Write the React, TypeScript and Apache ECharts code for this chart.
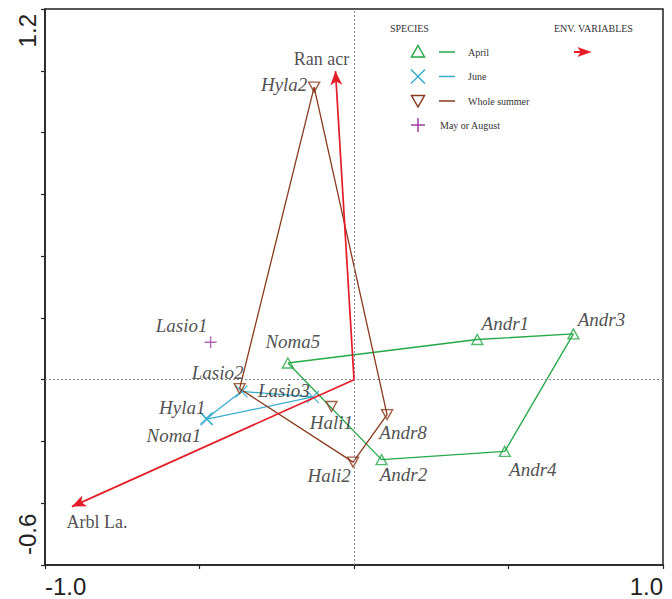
import React, { useEffect, useRef } from 'react';
import * as echarts from 'echarts';

// ---- data ----
const aprilHullNames = ['Noma5', 'Andr1', 'Andr3', 'Andr4', 'Andr2'];
const aprilHullX = [-0.214, 0.399, 0.71, 0.488, 0.089];
const aprilHullY = [0.054, 0.13, 0.148, -0.232, -0.259];

const juneHullNames = ['Hyla1', 'Lasio2', 'Lasio3', 'Noma1'];
const juneHullX = [-0.478, -0.364, -0.133, -0.476];
const juneHullY = [-0.126, -0.038, -0.056, -0.128];

const summerHullNames = ['Hyla2', 'Lasio2', 'Hali2', 'Andr8'];
const summerHullX = [-0.129, -0.37, -0.003, 0.107];
const summerHullY = [0.947, -0.029, -0.267, -0.113];
const summerInnerNames = ['Hali1'];
const summerInnerX = [-0.073];
const summerInnerY = [-0.087];

const mayAugNames = ['Lasio1'];
const mayAugX = [-0.464];
const mayAugY = [0.121];

const envNames = ['Ran acr', 'Arbl La.'];
const envX = [-0.06, -0.913];
const envY = [0.999, -0.411];

const xTickLabels = ['-1.0', '1.0'];
const yTickLabels = ['-0.6', '1.2'];
const xMin = -1, xMax = 1, yMin = -0.6, yMax = 1.2;

// ---- style ----
const GREEN = '#25a847';
const CYAN = '#3aaccb';
const BROWN = '#8a3a1c';
const PURPLE = '#a03ca0';
const RED = '#e31e28';
const TXT = '#222';
const SERIF = 'Liberation Serif';

const labelOffsets: Record<string, [number, number]> = {
  'april:Noma5': [5, -21],
  'april:Andr1': [28, -16],
  'april:Andr3': [28, -14],
  'april:Andr4': [28, 18],
  'april:Andr2': [22, 15],
  'june:Hyla1': [-24, -11],
  'june:Lasio3': [-29, -6],
  'june:Noma1': [-33, 16],
  'summer:Hyla2': [-30, -3],
  'summer:Lasio2': [-22, -16],
  'summer:Hali2': [-24, 13],
  'summer:Andr8': [16, 18],
  'summer:Hali1': [0, 16],
  'may:Lasio1': [-29, -17],
  'env:Ran acr': [-14, -12],
  'env:Arbl La.': [25, 15],
};

const speciesFont = {
  fontFamily: SERIF,
  fontStyle: 'italic' as const,
  fontSize: 19,
  color: TXT,
};

function pts(xs: number[], ys: number[]) {
  return xs.map((x, i) => [x, ys[i]]);
}

function closed(xs: number[], ys: number[]) {
  const p = pts(xs, ys);
  return [...p, p[0]];
}

function labelled(key: string, names: string[], xs: number[], ys: number[], extraStyle: any = {}) {
  return names.map((n, i) => {
    const off = labelOffsets[key + ':' + n];
    return {
      name: n,
      value: [xs[i], ys[i]],
      label: off
        ? {
            show: true,
            position: 'inside',
            offset: off,
            formatter: n,
            align: 'center',
            verticalAlign: 'middle',
            ...speciesFont,
            ...extraStyle,
          }
        : { show: false },
    };
  });
}

function hullLine(name: string, data: number[][], color: string) {
  return {
    name,
    type: 'line',
    data,
    symbol: 'none',
    silent: true,
    z: 3,
    lineStyle: { color, width: 1.3 },
  };
}

function pointSeries(name: string, data: any[], color: string, symbol: string, size: any, rotate = 0) {
  return {
    name,
    type: 'scatter',
    data,
    symbol,
    symbolSize: size,
    symbolRotate: rotate,
    silent: true,
    z: 4,
    itemStyle: { color: 'rgba(255,255,255,0)', borderColor: color, borderWidth: 1.4 },
  };
}

const CROSS = 'path://M0,0L10,10M10,0L0,10';
const PLUS = 'path://M5,0L5,10M0,5L10,5';

function legendGraphics() {
  const els: any[] = [];
  const font = '10px "Liberation Serif", serif';
  const text = (x: number, y: number, t: string) => ({
    type: 'text',
    x,
    y,
    style: { text: t, font, fill: '#333', align: 'left', verticalAlign: 'middle' },
    silent: true,
  });
  els.push(text(390, 28, 'SPECIES'));
  els.push(text(554, 28, 'ENV. VARIABLES'));
  const sx = 418;
  const rows = [52, 76.5, 101, 125];
  els.push({
    type: 'polygon',
    shape: { points: [[sx, rows[0] - 6.5], [sx + 6.5, rows[0] + 5], [sx - 6.5, rows[0] + 5]] },
    style: { fill: 'none', stroke: GREEN, lineWidth: 1.5 },
    silent: true,
  });
  els.push({ type: 'line', shape: { x1: sx - 7, y1: rows[1] - 7, x2: sx + 7, y2: rows[1] + 7 }, style: { stroke: CYAN, lineWidth: 1.5 }, silent: true });
  els.push({ type: 'line', shape: { x1: sx + 7, y1: rows[1] - 7, x2: sx - 7, y2: rows[1] + 7 }, style: { stroke: CYAN, lineWidth: 1.5 }, silent: true });
  els.push({
    type: 'polygon',
    shape: { points: [[sx - 6.5, rows[2] - 5.5], [sx + 6.5, rows[2] - 5.5], [sx, rows[2] + 6]] },
    style: { fill: 'none', stroke: BROWN, lineWidth: 1.5 },
    silent: true,
  });
  els.push({ type: 'line', shape: { x1: sx - 7, y1: rows[3], x2: sx + 7, y2: rows[3] }, style: { stroke: PURPLE, lineWidth: 1.5 }, silent: true });
  els.push({ type: 'line', shape: { x1: sx, y1: rows[3] - 7, x2: sx, y2: rows[3] + 7 }, style: { stroke: PURPLE, lineWidth: 1.5 }, silent: true });
  const segCols = [GREEN, CYAN, BROWN];
  segCols.forEach((c, i) => {
    els.push({ type: 'line', shape: { x1: 439, y1: rows[i], x2: 455, y2: rows[i] }, style: { stroke: c, lineWidth: 1.5 }, silent: true });
  });
  els.push(text(468, rows[0], 'April'));
  els.push(text(468, rows[1], 'June'));
  els.push(text(468, rows[2], 'Whole summer'));
  els.push(text(440, rows[3], 'May or August'));
  els.push({ type: 'line', shape: { x1: 574, y1: 52, x2: 582, y2: 52 }, style: { stroke: RED, lineWidth: 2 }, silent: true });
  els.push({
    type: 'polygon',
    shape: { points: [[578, 47.5], [591, 52], [578, 56.5], [581, 52]] },
    style: { fill: RED, stroke: RED, lineWidth: 0.5 },
    silent: true,
  });
  return els;
}

export default function App() {
  const ref = useRef<HTMLDivElement>(null);

  useEffect(() => {
    if (!ref.current) return;
    const chart = echarts.init(ref.current, null, { renderer: 'svg' });
    const axisFont = {
      fontFamily: 'Liberation Sans',
      fontSize: 24,
      color: TXT,
    };
    const option: any = {
      animation: false,
      backgroundColor: '#fff',
      grid: {
        left: 45,
        top: 9,
        width: 618,
        height: 556,
        show: true,
        borderColor: '#222',
        borderWidth: 1.5,
        backgroundColor: 'transparent',
        containLabel: false,
      },
      xAxis: {
        type: 'value',
        min: xMin,
        max: xMax,
        interval: 0.5,
        splitLine: { show: false },
        axisLine: { show: true, onZero: false, lineStyle: { color: '#222', width: 1.5 } },
        axisTick: { show: true, inside: false, length: 4, lineStyle: { color: '#222', width: 1.2 } },
        axisLabel: {
          ...axisFont,
          margin: 9,
          alignMinLabel: 'left',
          alignMaxLabel: 'right',
          formatter: (v: number) =>
            Math.abs(v - xMin) < 1e-9 ? xTickLabels[0] : Math.abs(v - xMax) < 1e-9 ? xTickLabels[1] : '',
        },
      },
      yAxis: {
        type: 'value',
        min: yMin,
        max: yMax,
        interval: 0.2,
        splitLine: { show: false },
        axisLine: { show: true, onZero: false, lineStyle: { color: '#222', width: 1.5 } },
        axisTick: { show: true, inside: false, length: 4, lineStyle: { color: '#222', width: 1.2 } },
        axisLabel: {
          ...axisFont,
          rotate: 90,
          margin: 6,
          alignMinLabel: 'left',
          alignMaxLabel: 'right',
          rich: {
            lo: { ...axisFont, padding: [0, 0, 0, 10] },
            hi: { ...axisFont, padding: [0, 5, 0, 0] },
          },
          formatter: (v: number) =>
            Math.abs(v - yMin) < 1e-9
              ? '{lo|' + yTickLabels[0] + '}'
              : Math.abs(v - yMax) < 1e-9
              ? '{hi|' + yTickLabels[1] + '}'
              : '',
        },
      },
      graphic: legendGraphics(),
      series: [
        {
          name: 'zero',
          type: 'scatter',
          data: [],
          silent: true,
          z: 1,
          markLine: {
            silent: true,
            symbol: ['none', 'none'],
            label: { show: false },
            lineStyle: { color: '#8a8a8a', width: 1, type: [2, 2] },
            data: [{ xAxis: 0 }, { yAxis: 0 }],
          },
        },
        hullLine('April', closed(aprilHullX, aprilHullY), GREEN),
        hullLine('June', closed(juneHullX, juneHullY), CYAN),
        hullLine('Whole summer', closed(summerHullX, summerHullY), BROWN),
        pointSeries('April', labelled('april', aprilHullNames, aprilHullX, aprilHullY), GREEN, 'triangle', [11, 10]),
        pointSeries('June', labelled('june', juneHullNames, juneHullX, juneHullY), CYAN, CROSS, 12),
        pointSeries(
          'Whole summer',
          [
            ...labelled('summer', summerHullNames, summerHullX, summerHullY),
            ...labelled('summer', summerInnerNames, summerInnerX, summerInnerY),
          ],
          BROWN,
          'triangle',
          [11, 10],
          180
        ),
        pointSeries('May or August', labelled('may', mayAugNames, mayAugX, mayAugY), PURPLE, PLUS, 12),
        {
          name: 'ENV. VARIABLES',
          type: 'scatter',
          data: labelled('env', envNames, envX, envY, { fontStyle: 'normal', fontSize: 18 }),
          symbolSize: 1,
          itemStyle: { color: 'rgba(0,0,0,0)' },
          silent: true,
          z: 5,
        },
        {
          name: 'arrows',
          type: 'line',
          data: [],
          silent: true,
          z: 5,
          markLine: {
            silent: true,
            symbol: ['none', 'arrow'],
            symbolSize: [9, 14],
            label: { show: false },
            itemStyle: { color: RED },
            lineStyle: { color: RED, width: 1.7, type: 'solid' },
            data: envX.map((x, i) => [{ coord: [0, 0] }, { coord: [x, envY[i]] }]),
          },
        },
      ],
    };
    chart.setOption(option);
    return () => chart.dispose();
  }, []);

  return (
    <div
      ref={ref}
      style={{ position: 'absolute', left: 0, top: 0, width: 672, height: 599, background: '#fff' }}
    />
  );
}
